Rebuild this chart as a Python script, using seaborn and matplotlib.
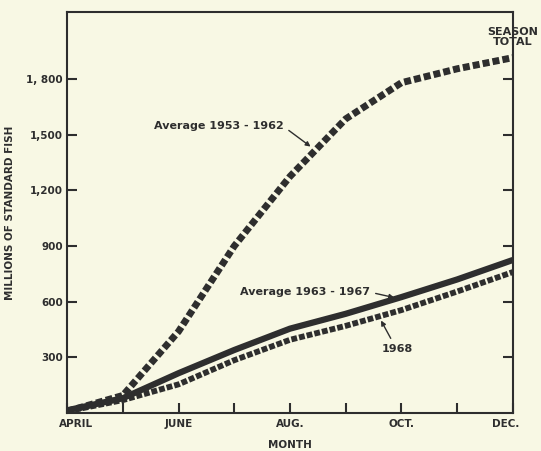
# -*- coding: utf-8 -*-
"""
Cumulative catch by month - three seasons compared.
"""

import pandas as pd
import matplotlib
matplotlib.use('Agg')
import matplotlib.pyplot as plt
import matplotlib.transforms as mtransforms
import seaborn as sns

# months April .. December as 0 .. 8
month_idx = [0, 1, 2, 3, 4, 5, 6, 7, 8]
month_labels = ['APRIL', '', 'JUNE', '', 'AUG.', '', 'OCT.', '', 'DEC.']

avg_1953_1962 = [10, 95, 440, 900, 1275, 1585, 1780, 1855, 1915]
avg_1963_1967 = [15, 80, 215, 340, 455, 535, 625, 720, 825]
year_1968 = [10, 70, 155, 285, 395, 470, 555, 655, 760]

y_ticks = [300, 600, 900, 1200, 1500, 1800]
y_tick_labels = ['300', '600', '900', '1,200', '1,500', '1, 800']

BG = '#f8f8e4'
INK = '#2e2e2e'

sns.set_style('ticks')
plt.rcParams['font.family'] = ['DejaVu Sans']

fig = plt.figure(figsize=(5.41, 4.51), dpi=100, facecolor=BG)
ax = fig.add_axes([0.124, 0.084, 0.824, 0.889])
ax.set_facecolor(BG)

df = pd.DataFrame({'month': month_idx,
                   'a5362': avg_1953_1962,
                   'a6367': avg_1963_1967,
                   'y68': year_1968})

sns.lineplot(data=df, x='month', y='y68', ax=ax, color=INK, linewidth=4.2,
             linestyle=(0, (1.0, 0.35)), dash_capstyle='butt', zorder=3)
sns.lineplot(data=df, x='month', y='a6367', ax=ax, color=INK, linewidth=4.5,
             solid_capstyle='butt', zorder=4)
sns.lineplot(data=df, x='month', y='a5362', ax=ax, color=INK, linewidth=5,
             linestyle=(0, (1.0, 0.45)), dash_capstyle='butt', zorder=5)

ax.set_xlim(0, 8)
ax.set_ylim(0, 2160)
ax.set_xticks(month_idx)
ax.set_xticklabels(month_labels)
ax.set_yticks(y_ticks)
ax.set_yticklabels(y_tick_labels)

ax.tick_params(axis='both', direction='in', length=7, width=1.5, color=INK,
               labelsize=7.5, labelcolor=INK, pad=4)
ax.tick_params(axis='y', right=True, pad=3)
for lab in ax.get_xticklabels() + ax.get_yticklabels():
    lab.set_fontweight('bold')
for s in ax.spines.values():
    s.set_visible(True)
    s.set_linewidth(1.5)
    s.set_color(INK)

# first and last month labels sit a little inside the frame
xlabs = ax.get_xticklabels()
xlabs[0].set_transform(xlabs[0].get_transform() +
                       mtransforms.ScaledTranslation(0.09, 0, fig.dpi_scale_trans))
xlabs[-1].set_transform(xlabs[-1].get_transform() +
                        mtransforms.ScaledTranslation(-0.07, 0, fig.dpi_scale_trans))

ax.set_xlabel('MONTH', fontsize=7.5, fontweight='bold', color=INK, labelpad=8)
ax.set_ylabel('MILLIONS OF STANDARD FISH', fontsize=7.5, fontweight='bold',
              color=INK, labelpad=8)

txt = dict(fontsize=8, fontweight='bold', color=INK)

ax.annotate('Average 1953 - 1962', xy=(4.41, 1427), xytext=(3.88, 1545),
            ha='right', va='center', **txt,
            arrowprops=dict(arrowstyle='-|>', color=INK, lw=1.0,
                            mutation_scale=7, relpos=(1, 0.5)))
ax.annotate('Average 1963 - 1967', xy=(5.92, 619), xytext=(5.43, 652),
            ha='right', va='center', **txt,
            arrowprops=dict(arrowstyle='-|>', color=INK, lw=1.0,
                            mutation_scale=7, relpos=(1, 0.5)))
ax.annotate('1968', xy=(5.61, 512), xytext=(5.92, 345),
            ha='center', va='center', **txt,
            arrowprops=dict(arrowstyle='-|>', color=INK, lw=1.0,
                            mutation_scale=7, relpos=(0.4, 1)))
ax.text(8, 2025, 'SEASON\nTOTAL', ha='center', va='center',
        linespacing=0.95, **txt)

plt.savefig('out.png', dpi=100, facecolor=BG)
plt.close()
